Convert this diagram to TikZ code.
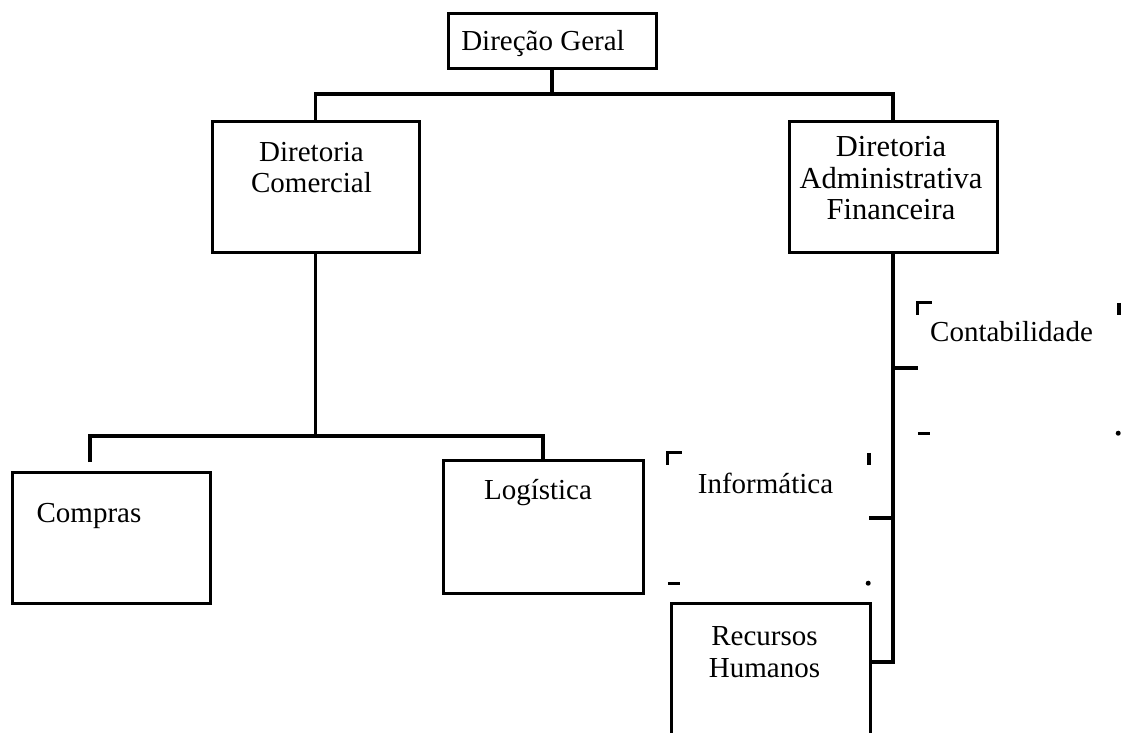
\documentclass[tikz,border=0pt]{standalone}
\usepackage{fontspec}
\setmainfont{Liberation Serif}
\usepackage{tikz}
\usetikzlibrary{positioning}

% marcas de canto das caixas quase apagadas
\newcommand{\cornermarks}[1]{%
  \draw[line width=3pt] ([yshift=-12pt]#1.north west) -- (#1.north west) -- ++(14pt,0pt);
  \draw[line width=4pt] (#1.north east) -- ++(0pt,-12pt);
  \draw[line width=3pt] (#1.south west) -- ++(12pt,0pt);
  \fill ([xshift=-1pt]#1.south east) circle (2.5pt);}

\begin{document}
\begin{tikzpicture}[x=1pt, y=-1pt,
    orgbox/.style={draw, rectangle, line width=3pt, inner sep=0pt},
    ghostbox/.style={rectangle, inner sep=0pt},
    link/.style={line width=3.4pt},
    every label/.style={font=\fontsize{29}{31.5}\selectfont, align=center}]
  \useasboundingbox (0,0) rectangle (1121,732);
  \clip (0,0) rectangle (1121,732);

  % caixas
  \node[orgbox, minimum width=208pt, minimum height=55pt,
        label={[xshift=-9pt,yshift=-3pt]center:Direção Geral}] (geral) at (552,40.5) {};
  \node[orgbox, minimum width=207pt, minimum height=131pt,
        label={[xshift=-4pt,yshift=19pt]center:Diretoria\\Comercial}] (comercial) at (315.5,186.5) {};
  \node[orgbox, minimum width=208pt, minimum height=131pt,
        label={[xshift=-2pt,yshift=8pt, font=\fontsize{30.5}{31.5}\selectfont]center:Diretoria\\Administrativa\\Financeira}] (financeira) at (893,186.5) {};
  \node[orgbox, minimum width=198pt, minimum height=131pt,
        label={[xshift=-22pt,yshift=22pt]center:Compras}] (compras) at (111,537.5) {};
  \node[orgbox, minimum width=200pt, minimum height=133pt,
        label={[xshift=-5pt,yshift=34pt]center:Logística}] (logistica) at (543,526.5) {};
  \node[ghostbox, minimum width=201pt, minimum height=130pt,
        label={[xshift=-3pt,yshift=35pt]center:Informática}] (informatica) at (768.5,518) {};
  \node[ghostbox, minimum width=201pt, minimum height=130pt,
        label={[xshift=-7pt,yshift=36pt]center:Contabilidade}] (contabilidade) at (1018.5,368) {};
  \node[orgbox, minimum width=199pt, minimum height=162pt,
        label={[xshift=-6pt,yshift=32pt]center:Recursos\\Humanos}] (rh) at (770.5,684) {};

  \cornermarks{informatica}
  \cornermarks{contabilidade}

  % ligacoes
  \coordinate (topbar) at (552,94);
  \draw[link] (geral.south) -- (topbar);
  \draw[link] (comercial.north) |- (topbar) -| (financeira.north);

  \coordinate (leftbar) at (315.5,436);
  \coordinate (compras-tip) at (90,462);
  \draw[link] (comercial.south) -- (leftbar);
  \draw[link] (compras-tip) |- (leftbar) -| (logistica.north);

  \draw[link] (financeira.south) |- ([yshift=22pt]rh.east);
  \draw[link] (contabilidade.west) -- (contabilidade.west -| financeira.south);
  \draw[link] (informatica.east) -- (informatica.east -| financeira.south);
\end{tikzpicture}
\end{document}
